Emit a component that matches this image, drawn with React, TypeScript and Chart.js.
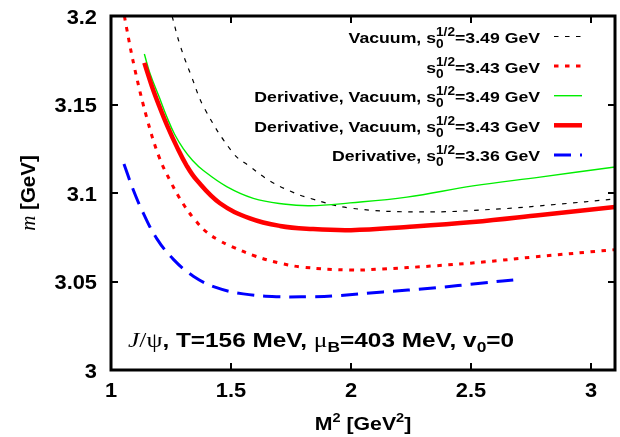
import React, { useEffect, useRef } from "react";
import { Chart, registerables } from "chart.js";

Chart.register(...registerables);

// ---- axes ----
const xTicks = [1, 1.5, 2, 2.5, 3];
const yTicks = [3, 3.05, 3.1, 3.15, 3.2];
const xTickLabels = ["1", "1.5", "2", "2.5", "3"];
const yTickLabels = ["3", "3.05", "3.1", "3.15", "3.2"];
const xMin = 1;
const xMax = 3.1;
const yMin = 3;
const yMax = 3.2;

// ---- series (M^2 in GeV^2, m in GeV) ----
const vac349X = [1.2545, 1.2875, 1.335, 1.389, 1.51, 1.579, 1.6625, 1.746, 1.829, 1.996, 2.2875, 2.62, 2.85, 3.1];
const vac349Y = [3.2, 3.1836, 3.166, 3.1479, 3.1224, 3.1149, 3.1068, 3.1011, 3.097, 3.0915, 3.0893, 3.091, 3.0935, 3.0966];

const s343X = [1.056, 1.0625, 1.1, 1.15, 1.2, 1.25, 1.3, 1.35, 1.4, 1.45, 1.5, 1.6, 1.7, 1.8, 2.0, 2.133, 2.342, 2.55, 2.758, 3.1];
const s343Y = [3.2, 3.1949, 3.1695, 3.142, 3.1205, 3.106, 3.094, 3.0848, 3.0777, 3.0733, 3.0699, 3.0644, 3.0605, 3.0581, 3.0565, 3.0571, 3.0588, 3.061, 3.0638, 3.068];

const derVac349X = [1.139, 1.1625, 1.2, 1.232, 1.265, 1.301, 1.34, 1.385, 1.482, 1.593, 1.718, 1.829, 1.996, 2.233, 2.508, 2.7875, 3.1];
const derVac349Y = [3.1785, 3.1675, 3.1545, 3.1432, 3.1332, 3.1251, 3.1184, 3.1127, 3.1036, 3.097, 3.0938, 3.0928, 3.0944, 3.0977, 3.104, 3.109, 3.1147];

const derVac343X = [1.139, 1.17, 1.2, 1.235, 1.274, 1.315, 1.357, 1.454, 1.579, 1.704, 1.829, 2.0, 2.233, 2.508, 2.79, 3.1];
const derVac343Y = [3.1735, 3.1605, 3.1495, 3.1378, 3.1262, 3.1155, 3.1073, 3.0942, 3.0857, 3.0814, 3.0797, 3.079, 3.0808, 3.0836, 3.0876, 3.0921];

const der336X = [1.054, 1.093, 1.135, 1.19, 1.26, 1.343, 1.44, 1.551, 1.69, 1.829, 1.925, 2.133, 2.342, 2.55, 2.7125];
const der336Y = [3.1164, 3.1017, 3.0885, 3.0744, 3.0625, 3.053, 3.0465, 3.043, 3.0414, 3.0414, 3.0418, 3.0441, 3.0463, 3.0492, 3.0514];

// ---- legend text ----
const legendPrefixes = ["Vacuum, ", "", "Derivative, Vacuum, ", "Derivative, Vacuum, ", "Derivative, "];
const legendS0 = ["3.49", "3.43", "3.49", "3.43", "3.36"];

// ---- annotation values ----
const annT = "156";
const annMuB = "403";
const annV0 = "0";

// ---- styles ----
const styles = [
  { color: "#000000", width: 1.2, dash: [4.5, 6.5] },
  { color: "#ff0000", width: 3, dash: [4.5, 6.5] },
  { color: "#00ee00", width: 1.4, dash: [] as number[] },
  { color: "#ff0000", width: 4.5, dash: [] as number[] },
  { color: "#0000ff", width: 3, dash: [17, 9] },
];

const seriesX = [vac349X, s343X, derVac349X, derVac343X, der336X];
const seriesY = [vac349Y, s343Y, derVac349Y, derVac343Y, der336Y];

const SANS = '"Liberation Sans", Arial, sans-serif';
const SERIF = '"Liberation Serif", "Times New Roman", serif';
const font = (size: number, bold = true, italic = false, fam = SANS) =>
  `${italic ? "italic " : ""}${bold ? "bold " : ""}${size}px ${fam}`;

type Seg = { t: string; font: string; dy?: number; noAdvance?: boolean };

function segsWidth(ctx: CanvasRenderingContext2D, segs: Seg[], sx = 1) {
  let w = 0;
  for (const s of segs) {
    ctx.font = s.font;
    if (!s.noAdvance) w += ctx.measureText(s.t).width;
  }
  return w * sx;
}

function drawSegs(ctx: CanvasRenderingContext2D, segs: Seg[], x: number, y: number, sx = 1) {
  ctx.save();
  ctx.translate(x, y);
  ctx.scale(sx, 1);
  let cx = 0;
  for (const s of segs) {
    ctx.font = s.font;
    ctx.fillText(s.t, cx, s.dy || 0);
    if (!s.noAdvance) cx += ctx.measureText(s.t).width;
  }
  ctx.restore();
}

function applyStyle(ctx: CanvasRenderingContext2D, st: { color: string; width: number; dash: number[] }) {
  ctx.strokeStyle = st.color;
  ctx.lineWidth = st.width;
  ctx.setLineDash(st.dash);
  ctx.lineCap = "butt";
}

const SX = 1.12;

const decorPlugin = {
  id: "decor",
  afterDatasetsDraw(chart: any) {
    const ctx: CanvasRenderingContext2D = chart.ctx;
    const a = chart.chartArea;
    const xs = chart.scales.x;
    const ys = chart.scales.y;
    ctx.save();
    // border
    ctx.setLineDash([]);
    ctx.strokeStyle = "#000";
    ctx.lineWidth = 3;
    ctx.strokeRect(a.left, a.top, a.right - a.left, a.bottom - a.top);
    // inward ticks on all sides
    ctx.lineWidth = 2;
    const tl = 7;
    ctx.beginPath();
    for (const v of xTicks) {
      const px = Math.round(xs.getPixelForValue(v));
      ctx.moveTo(px, a.bottom);
      ctx.lineTo(px, a.bottom - tl);
      ctx.moveTo(px, a.top);
      ctx.lineTo(px, a.top + tl);
    }
    for (const v of yTicks) {
      const py = Math.round(ys.getPixelForValue(v));
      ctx.moveTo(a.left, py);
      ctx.lineTo(a.left + tl, py);
      ctx.moveTo(a.right, py);
      ctx.lineTo(a.right - tl, py);
    }
    ctx.stroke();

    ctx.fillStyle = "#000";
    ctx.textBaseline = "alphabetic";
    ctx.textAlign = "left";

    // tick labels
    const tf = font(19.5);
    yTicks.forEach((v, i) => {
      const segs: Seg[] = [{ t: yTickLabels[i], font: tf }];
      const w = segsWidth(ctx, segs, SX);
      drawSegs(ctx, segs, a.left - 14 - w, ys.getPixelForValue(v) + 7.5, SX);
    });
    xTicks.forEach((v, i) => {
      const segs: Seg[] = [{ t: xTickLabels[i], font: tf }];
      const w = segsWidth(ctx, segs, SX);
      drawSegs(ctx, segs, xs.getPixelForValue(v) - w / 2, a.bottom + 27, SX);
    });

    // legend
    const big = font(15.5);
    const small = font(12);
    for (let i = 0; i < legendPrefixes.length; i++) {
      const cy = 36.5 + i * 29.6;
      const segs: Seg[] = [
        { t: legendPrefixes[i] + "s", font: big },
        { t: "0", font: small, dy: 5, noAdvance: true },
        { t: "1/2", font: small, dy: -7 },
        { t: "=" + legendS0[i] + " GeV", font: big },
      ];
      const w = segsWidth(ctx, segs, 1.14);
      drawSegs(ctx, segs, 540 - w, cy + 6.5, 1.14);
      applyStyle(ctx, styles[i]);
      ctx.beginPath();
      ctx.moveTo(554, cy);
      ctx.lineTo(582, cy);
      ctx.stroke();
    }

    // annotation
    ctx.setLineDash([]);
    const ab = font(21);
    const as = font(15);
    const ann: Seg[] = [
      { t: "J", font: font(22, false, true, SERIF) },
      { t: "/\u03C8", font: font(22, false, false, SERIF) },
      { t: ", T=" + annT + " MeV, ", font: ab },
      { t: "\u03BC", font: font(22, false, false, SERIF) },
      { t: "B", font: as, dy: 5 },
      { t: "=" + annMuB + " MeV, v", font: ab },
      { t: "0", font: as, dy: 5 },
      { t: "=" + annV0, font: ab },
    ];
    drawSegs(ctx, ann, 128, 347, 1.16);

    // x title
    const xt: Seg[] = [
      { t: "M", font: font(19) },
      { t: "2", font: font(13), dy: -8 },
      { t: " [GeV", font: font(19) },
      { t: "2", font: font(13), dy: -8 },
      { t: "]", font: font(19) },
    ];
    const xw = segsWidth(ctx, xt, SX);
    drawSegs(ctx, xt, (a.left + a.right) / 2 - xw / 2, 430, SX);

    // y title
    const yt: Seg[] = [
      { t: "m", font: font(21, false, true, SERIF) },
      { t: " [GeV]", font: font(20.5) },
    ];
    const yw = segsWidth(ctx, yt);
    ctx.translate(28, (a.top + a.bottom) / 2);
    ctx.rotate(-Math.PI / 2);
    drawSegs(ctx, yt, -yw / 2, 7);
    ctx.restore();
  },
};

export default function App() {
  const ref = useRef<HTMLCanvasElement | null>(null);
  useEffect(() => {
    document.body.style.margin = "0";
    const canvas = ref.current;
    if (!canvas) return;
    const datasets = seriesX.map((xs, i) => ({
      label: legendPrefixes[i] + legendS0[i],
      data: xs.map((x, j) => ({ x, y: seriesY[i][j] })),
      borderColor: styles[i].color,
      borderWidth: styles[i].width,
      borderDash: styles[i].dash,
      borderCapStyle: "butt" as const,
      pointRadius: 0,
      fill: false,
      tension: 0.4,
      order: 5 - i,
    }));
    const chart = new Chart(canvas, {
      type: "line",
      data: { datasets },
      options: {
        animation: false,
        responsive: false,
        layout: { padding: { top: 16, right: 5, left: 0, bottom: 0 } },
        plugins: { legend: { display: false }, tooltip: { enabled: false } },
        scales: {
          x: {
            type: "linear",
            min: xMin,
            max: xMax,
            grid: { display: false, drawTicks: false },
            border: { display: false },
            afterFit: (s: any) => {
              s.height = 67;
            },
            afterBuildTicks: (s: any) => {
              s.ticks = xTicks.map((v) => ({ value: v }));
            },
            ticks: { display: false },
          },
          y: {
            type: "linear",
            min: yMin,
            max: yMax,
            grid: { display: false, drawTicks: false },
            border: { display: false },
            afterFit: (s: any) => {
              s.width = 111;
            },
            afterBuildTicks: (s: any) => {
              s.ticks = yTicks.map((v) => ({ value: v }));
            },
            ticks: { display: false },
          },
        },
      },
      plugins: [decorPlugin],
    });
    return () => chart.destroy();
  }, []);
  return <canvas ref={ref} width={620} height={437} style={{ display: "block" }} />;
}
